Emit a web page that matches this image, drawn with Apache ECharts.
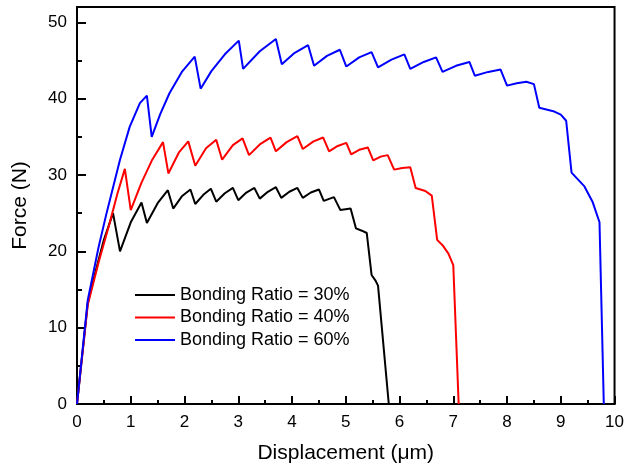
<!DOCTYPE html>
<html>
<head>
<meta charset="utf-8">
<script src="https://cdn.jsdelivr.net/npm/echarts@6/dist/echarts.min.js"></script>
<style>
  html, body { margin: 0; padding: 0; background: #fff; }
  #chart { width: 627px; height: 470px; }
</style>
</head>
<body>
<div id="chart"></div>
<script>
// Force–displacement curves for three bonding ratios
const seriesNames = ['Bonding Ratio = 30%', 'Bonding Ratio = 40%', 'Bonding Ratio = 60%'];

const disp30 = [0, 0.2, 0.35, 0.5, 0.67, 0.80, 1.0, 1.20, 1.30, 1.5, 1.69, 1.79, 1.95, 2.11, 2.20, 2.35, 2.49, 2.59, 2.75, 2.90, 3.00, 3.15, 3.30, 3.40, 3.55, 3.70, 3.80, 3.95, 4.10, 4.20, 4.35, 4.50, 4.59, 4.78, 4.90, 5.09, 5.19, 5.30, 5.39, 5.48, 5.55, 5.60, 5.80];
const force30 = [0, 13.2, 17.5, 21.5, 25.0, 20.0, 23.8, 26.4, 23.7, 26.3, 28.0, 25.6, 27.2, 28.1, 26.2, 27.4, 28.2, 26.5, 27.6, 28.3, 26.7, 27.7, 28.3, 26.9, 27.8, 28.4, 27.0, 27.8, 28.3, 27.0, 27.7, 28.1, 26.6, 27.1, 25.4, 25.6, 23.0, 22.7, 22.4, 16.9, 16.2, 15.5, 0];

const disp40 = [0, 0.2, 0.4, 0.6, 0.75, 0.89, 1.0, 1.2, 1.4, 1.60, 1.70, 1.9, 2.07, 2.20, 2.4, 2.59, 2.70, 2.9, 3.08, 3.20, 3.4, 3.60, 3.70, 3.9, 4.10, 4.20, 4.4, 4.58, 4.69, 4.85, 5.01, 5.10, 5.25, 5.41, 5.51, 5.65, 5.78, 5.90, 6.05, 6.20, 6.30, 6.48, 6.60, 6.70, 6.80, 6.91, 7.00, 7.10];
const force40 = [0, 13.0, 18.5, 23.5, 27.5, 30.8, 25.4, 29.0, 32.0, 34.3, 30.2, 33.0, 34.4, 31.2, 33.5, 34.6, 32.0, 33.9, 34.8, 32.6, 34.0, 34.9, 33.1, 34.3, 35.1, 33.4, 34.4, 34.9, 33.1, 33.8, 34.2, 32.7, 33.3, 33.6, 31.9, 32.4, 32.6, 30.7, 30.9, 31.0, 28.3, 27.9, 27.3, 21.5, 20.8, 19.7, 18.2, 0];

const disp60 = [0, 0.2, 0.4, 0.55, 0.8, 0.98, 1.17, 1.30, 1.39, 1.55, 1.72, 1.95, 2.19, 2.30, 2.5, 2.75, 3.01, 3.09, 3.4, 3.70, 3.81, 4.05, 4.30, 4.41, 4.65, 4.89, 5.01, 5.25, 5.48, 5.60, 5.85, 6.09, 6.20, 6.45, 6.68, 6.80, 7.05, 7.30, 7.40, 7.65, 7.88, 8.00, 8.18, 8.36, 8.50, 8.60, 8.88, 9.00, 9.10, 9.20, 9.44, 9.59, 9.72, 9.80];
const force60 = [0, 13.6, 20.5, 25.0, 32.0, 36.3, 39.4, 40.4, 35.0, 38.0, 40.7, 43.5, 45.5, 41.3, 43.6, 45.8, 47.6, 43.9, 46.2, 47.8, 44.5, 46.0, 47.0, 44.3, 45.6, 46.4, 44.2, 45.4, 46.1, 44.1, 45.1, 45.8, 43.9, 44.8, 45.4, 43.5, 44.3, 44.8, 43.0, 43.5, 43.8, 41.7, 42.0, 42.2, 41.9, 38.8, 38.3, 37.9, 37.1, 30.3, 28.5, 26.5, 23.8, 0];

const lineColors = ['#000000', '#ff0000', '#0000ff'];

const xTicks = [0, 1, 2, 3, 4, 5, 6, 7, 8, 9, 10];
const yMajorTicks = [0, 10, 20, 30, 40, 50];
const yMinorTicks = [5, 15, 25, 35, 45];

function pairs(xs, ys) {
  return xs.map((x, i) => [x, ys[i]]);
}

const FONT = 'Liberation Sans, Arial, sans-serif';
const chart = echarts.init(document.getElementById('chart'));

const ySide = {
  type: 'value',
  min: 0,
  max: 52,
  position: 'left',
  splitLine: { show: false },
  axisLine: { show: false }
};

chart.setOption({
  animation: false,
  backgroundColor: '#ffffff',
  grid: {
    left: 77, right: 10, top: 7, bottom: 66,
    show: true, borderColor: '#000', borderWidth: 2, backgroundColor: 'transparent'
  },
  legend: {
    orient: 'vertical',
    left: 135,
    top: 286,
    padding: 0,
    icon: 'rect',
    itemWidth: 40,
    itemHeight: 2,
    itemGap: 4.5,
    textStyle: { fontFamily: FONT, fontSize: 18, color: '#000', lineHeight: 18 },
    data: seriesNames
  },
  xAxis: {
    type: 'value',
    min: xTicks[0],
    max: xTicks[xTicks.length - 1],
    interval: 1,
    name: 'Displacement (\u03bcm)',
    nameLocation: 'middle',
    nameGap: 39,
    nameTextStyle: { fontFamily: FONT, fontSize: 21, color: '#000' },
    axisLine: { show: true, onZero: false, lineStyle: { color: '#000', width: 2 } },
    axisTick: { show: true, inside: true, length: 8, lineStyle: { color: '#000', width: 2 } },
    minorTick: { show: true, splitNumber: 2, length: 4, lineStyle: { color: '#000', width: 2 } },
    axisLabel: { fontFamily: FONT, fontSize: 17, color: '#000', margin: 10 },
    splitLine: { show: false }
  },
  yAxis: [
    Object.assign({}, ySide, {
      name: 'Force (N)',
      nameLocation: 'middle',
      nameGap: 46,
      nameTextStyle: { fontFamily: FONT, fontSize: 21, color: '#000' },
      axisLine: { show: true, onZero: false, lineStyle: { color: '#000', width: 2 } },
      axisTick: { show: true, inside: true, length: 9, customValues: yMajorTicks, lineStyle: { color: '#000', width: 2 } },
      axisLabel: { fontFamily: FONT, fontSize: 17, color: '#000', margin: 10, customValues: yMajorTicks }
    }),
    Object.assign({}, ySide, {
      axisTick: { show: true, inside: true, length: 5, customValues: yMinorTicks, lineStyle: { color: '#000', width: 2 } },
      axisLabel: { show: false }
    })
  ],
  series: [
    { name: seriesNames[0], data: pairs(disp30, force30) },
    { name: seriesNames[1], data: pairs(disp40, force40) },
    { name: seriesNames[2], data: pairs(disp60, force60) }
  ].map((s, i) => ({
    type: 'line',
    name: s.name,
    data: s.data,
    yAxisIndex: 0,
    symbol: 'none',
    smooth: false,
    color: lineColors[i],
    lineStyle: { color: lineColors[i], width: 2 },
    z: 2 + i
  }))
});
</script>
</body>
</html>
